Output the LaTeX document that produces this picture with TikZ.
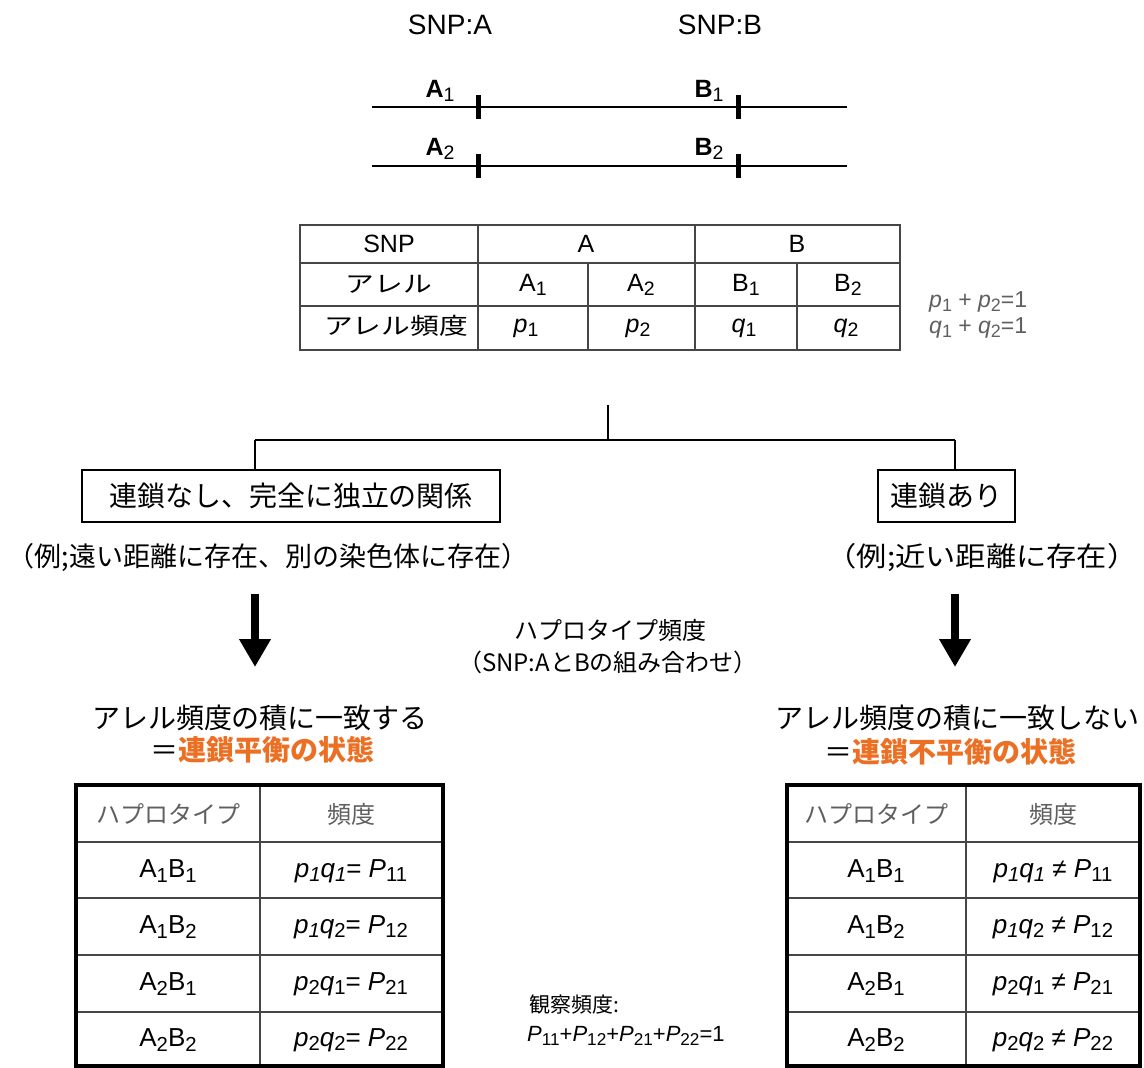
\documentclass[tikz,border=0pt]{standalone}
\usepackage{fontspec}
\setmainfont{Liberation Sans}
\newfontfamily\jp{Noto Sans CJK JP}
\newfontfamily\jpw[FakeStretch=1.25]{Noto Sans CJK JP}
\newfontfamily\jpx[FakeStretch=1.12]{Noto Sans CJK JP}
\usetikzlibrary{arrows.meta}
\definecolor{orng}{RGB}{236,112,36}
\definecolor{hdrgray}{RGB}{95,95,95}
\definecolor{gridgray}{RGB}{70,70,70}
\newcommand{\dn}[1]{\raisebox{-0.34ex}{\scalebox{0.78}{#1}}}
\newcommand{\fs}[1]{\fontsize{#1}{#1}\selectfont}
\begin{document}
\begin{tikzpicture}[x=1pt,y=-1pt,
  every node/.style={inner sep=0pt, anchor=center},
  chrom/.style={line width=1.3pt},
  tick/.style={line width=5pt},
  tree/.style={line width=1.2pt},
  boxed/.style={draw, line width=1.3pt, minimum height=52pt},
  bigarrow/.style={line width=8pt, -{Triangle[width=30pt,length=28pt]}},
  tgrid/.style={line width=1.3pt, draw=gridgray},
  thick border/.style={line width=4pt},
  tcell/.style={font=\fs{25}},
  jcell/.style={font=\jpw\fs{23}},
  bcell/.style={font=\fs{26}},
  hcell/.style={font=\jp\fs{24}, text=hdrgray},
  jtext/.style={font=\jp\fs{27}},
]
\useasboundingbox (0,0) rectangle (1144,1068);
\fill[white] (0,0) rectangle (1144,1068);

% ---------- chromosomes ----------
\node (snpa) at (450,25) {\fs{28}SNP:A};
\node (snpb) at (720,25) {\fs{28}SNP:B};
\coordinate (l1s) at (372,107); \coordinate (l1e) at (847,107);
\coordinate (l2s) at (372,166); \coordinate (l2e) at (847,166);
\draw[chrom] (l1s) -- (l1e);
\draw[chrom] (l2s) -- (l2e);
\coordinate (ta1t) at (478,95);  \coordinate (ta1b) at (478,119);
\coordinate (tb1t) at (738,95);  \coordinate (tb1b) at (738,119);
\coordinate (ta2t) at (478,154); \coordinate (ta2b) at (478,178);
\coordinate (tb2t) at (738,154); \coordinate (tb2b) at (738,178);
\draw[tick] (ta1t) -- (ta1b);
\draw[tick] (tb1t) -- (tb1b);
\draw[tick] (ta2t) -- (ta2b);
\draw[tick] (tb2t) -- (tb2b);
\node[anchor=base] (a1) at (440,97) {\fs{25}\textbf{A}\dn{1}};
\node[anchor=base] (a2) at (440,155) {\fs{25}\textbf{A}\dn{2}};
\node[anchor=base] (b1) at (709,97) {\fs{25}\textbf{B}\dn{1}};
\node[anchor=base] (b2) at (709,155) {\fs{25}\textbf{B}\dn{2}};

% ---------- allele table ----------
\draw[tgrid] (300,225) rectangle (900,350);
\draw[tgrid] (300,263) -- (900,263);
\draw[tgrid] (300,306) -- (900,306);
\draw[tgrid] (478,225) -- (478,350);
\draw[tgrid] (695,225) -- (695,350);
\draw[tgrid] (588,263) -- (588,350);
\draw[tgrid] (797,263) -- (797,350);
\node[tcell] (c11) at (389,244) {SNP};
\node[tcell] (c12) at (586,244) {A};
\node[tcell] (c13) at (797,244) {B};
\node[jcell] (c21) at (389,284) {アレル};
\node[tcell] (c22) at (533,285) {A\dn{1}};
\node[tcell] (c23) at (641,285) {A\dn{2}};
\node[tcell] (c24) at (746,285) {B\dn{1}};
\node[tcell] (c25) at (848,285) {B\dn{2}};
\node[jcell] (c31) at (396,326) {アレル頻度};
\node[tcell] (c32) at (526,328) {\textit{p}\dn{1}};
\node[tcell] (c33) at (638,328) {\textit{p}\dn{2}};
\node[tcell] (c34) at (744,328) {\textit{q}\dn{1}};
\node[tcell] (c35) at (846,328) {\textit{q}\dn{2}};
\node[anchor=west, text=hdrgray] (sum1) at (929,302) {\fs{23}\textit{p}\dn{1} + \textit{p}\dn{2}=1};
\node[anchor=west, text=hdrgray] (sum2) at (929,328) {\fs{23}\textit{q}\dn{1} + \textit{q}\dn{2}=1};

% ---------- tree ----------
\coordinate (root) at (608,405);
\coordinate (jn) at (608,440);
\coordinate (jl) at (255,440);
\coordinate (jr) at (955,440);
\node[boxed, minimum width=418pt, font=\jp\fs{28}] (left) at (291,496) {連鎖なし、完全に独立の関係};
\node[boxed, minimum width=137pt, font=\jp\fs{28}] (right) at (946.5,496) {連鎖あり};
\draw[tree] (root) -- (jn);
\draw[tree] (jl) -- (jr);
\draw[tree] (jl) -- (jl |- left.north);
\draw[tree] (jr) -- (jr |- right.north);
\node[jtext] (exl) at (268,558) {（例;遠い距離に存在、別の染色体に存在）};
\node[jtext, font=\jpx\fs{27}] (exr) at (982,558) {（例;近い距離に存在）};

% ---------- arrows ----------
\coordinate (al1) at (255,594); \coordinate (al2) at (255,667);
\coordinate (ar1) at (955,594); \coordinate (ar2) at (955,667);
\draw[bigarrow] (al1) -- (al2);
\draw[bigarrow] (ar1) -- (ar2);

% ---------- centre ----------
\node[font=\jp\fs{24}] (hap) at (610,630) {ハプロタイプ頻度};
\node[font=\jp\fs{24}] (hap2) at (608,662) {（SNP:AとBの組み合わせ）};

% ---------- headings ----------
\node[font=\jp\fs{28}] (hl1) at (260,718) {アレル頻度の積に一致する};
\node[font=\jp\fs{28}] (hl2) at (262,750) {＝\textcolor{orng}{\bfseries 連鎖平衡の状態}};
\node[font=\jp\fs{28}] (hr1) at (957,718) {アレル頻度の積に一致しない};
\node[font=\jp\fs{28}] (hr2) at (950,752) {＝\textcolor{orng}{\bfseries 連鎖不平衡の状態}};

% ---------- left haplotype table ----------
\foreach \y in {842,898,955,1012} { \draw[tgrid] (76,\y) -- (443,\y); }
\draw[tgrid] (260,785) -- (260,1066);
\draw[thick border] (76,785) rectangle (443,1066);
\node[hcell] (lh1) at (168,814) {ハプロタイプ};
\node[hcell] (lh2) at (351,814) {頻度};
\node[bcell] (lr1a) at (168,871) {A\dn{1}B\dn{1}};
\node[bcell] (lr2a) at (168,927) {A\dn{1}B\dn{2}};
\node[bcell] (lr3a) at (168,984) {A\dn{2}B\dn{1}};
\node[bcell] (lr4a) at (168,1040) {A\dn{2}B\dn{2}};
\node[bcell] (lr1b) at (351,871) {\textit{p\dn{1}q\dn{1}}= \textit{P}\dn{11}};
\node[bcell] (lr2b) at (351,927) {\textit{p\dn{1}q}\dn{2}= \textit{P}\dn{12}};
\node[bcell] (lr3b) at (351,984) {\textit{p}\dn{2}\textit{q}\dn{1}= \textit{P}\dn{21}};
\node[bcell] (lr4b) at (351,1040) {\textit{p}\dn{2}\textit{q}\dn{2}= \textit{P}\dn{22}};

% ---------- right haplotype table ----------
\foreach \y in {842,898,955,1012} { \draw[tgrid] (787,\y) -- (1140,\y); }
\draw[tgrid] (966,785) -- (966,1066);
\draw[thick border] (787,785) rectangle (1140,1066);
\node[hcell] (rh1) at (876,814) {ハプロタイプ};
\node[hcell] (rh2) at (1053,814) {頻度};
\node[bcell] (rr1a) at (876,871) {A\dn{1}B\dn{1}};
\node[bcell] (rr2a) at (876,927) {A\dn{1}B\dn{2}};
\node[bcell] (rr3a) at (876,984) {A\dn{2}B\dn{1}};
\node[bcell] (rr4a) at (876,1040) {A\dn{2}B\dn{2}};
\node[bcell] (rr1b) at (1053,871) {\textit{p\dn{1}q\dn{1}} ≠ \textit{P}\dn{11}};
\node[bcell] (rr2b) at (1053,927) {\textit{p\dn{1}q}\dn{2} ≠ \textit{P}\dn{12}};
\node[bcell] (rr3b) at (1053,984) {\textit{p}\dn{2}\textit{q}\dn{1} ≠ \textit{P}\dn{21}};
\node[bcell] (rr4b) at (1053,1040) {\textit{p}\dn{2}\textit{q}\dn{2} ≠ \textit{P}\dn{22}};

% ---------- observed ----------
\node[anchor=west, font=\jp\fs{21}] (obs1) at (529,1005) {観察頻度:};
\node[anchor=west, font=\fs{22}] (obs2) at (527,1036) {\textit{P}\dn{11}+\textit{P}\dn{12}+\textit{P}\dn{21}+\textit{P}\dn{22}=1};
\end{tikzpicture}
\end{document}
